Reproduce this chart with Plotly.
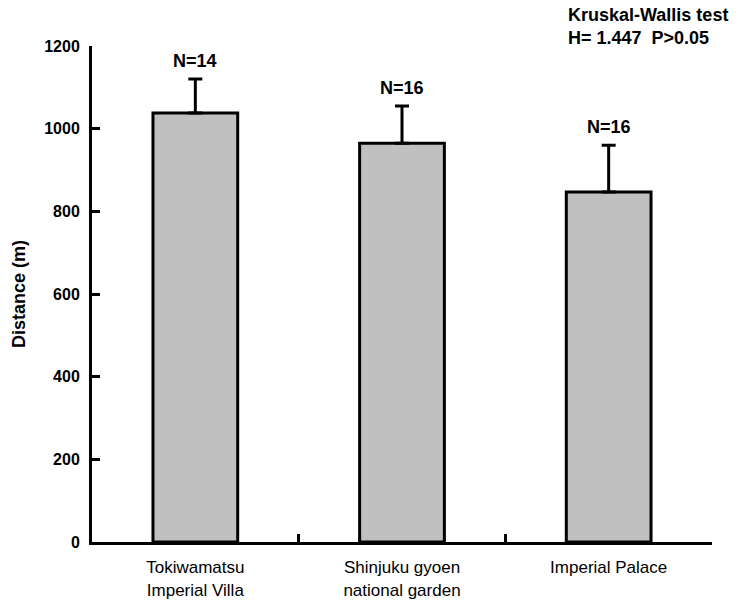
import plotly.graph_objects as go

categories = ["Tokiwamatsu<br>Imperial Villa", "Shinjuku gyoen<br>national garden", "Imperial Palace"]
means = [1038, 965, 847]
errors = [82, 90, 113]
n_labels = ["N=14", "N=16", "N=16"]
y_ticks = [0, 200, 400, 600, 800, 1000, 1200]
stat_text = "Kruskal-Wallis test<br>H= 1.447  P>0.05"

fig = go.Figure()
fig.add_trace(go.Bar(
    x=categories, y=means, width=0.41,
    marker=dict(color="#c0c0c0", line=dict(color="black", width=3)),
    error_y=dict(type="data", array=errors, symmetric=False, arrayminus=[0, 0, 0],
                 color="black", thickness=3, width=7),
))

for c, m, e, t in zip(categories, means, errors, n_labels):
    fig.add_annotation(x=c, y=m + e, text=f"<b>{t}</b>", showarrow=False,
                       yanchor="bottom", yshift=6,
                       font=dict(family="Liberation Sans, Arial", size=18, color="black"))

fig.add_annotation(xref="paper", yref="paper", x=1.0, y=1.0, xanchor="left", yanchor="bottom",
                   xshift=-146, yshift=-4, align="left", text=f"<b>{stat_text}</b>", showarrow=False,
                   font=dict(family="Liberation Sans, Arial", size=18, color="black"))

fig.update_layout(
    width=740, height=600,
    margin=dict(l=92, r=28, t=46, b=58),
    plot_bgcolor="white", paper_bgcolor="white",
    showlegend=False,
)
fig.update_xaxes(
    type="category", showline=True, linecolor="black", linewidth=3,
    ticks="inside", tickson="boundaries", ticklen=8, tickwidth=3, tickcolor="black",
    ticklabelstandoff=8, automargin=False,
    tickfont=dict(family="Liberation Sans, Arial", size=17, color="black"),
    showgrid=False, zeroline=False,
)
fig.update_yaxes(
    range=[0, 1200], tickvals=y_ticks, showline=True, linecolor="black", linewidth=3,
    ticks="inside", ticklen=8, tickwidth=3, tickcolor="black",
    ticklabelstandoff=6, automargin=False,
    tickfont=dict(family="Liberation Sans, Arial", size=16, color="black", weight="bold"),
    showgrid=False, zeroline=False,
    title=dict(text="<b>Distance (m)</b>", standoff=14,
               font=dict(family="Liberation Sans, Arial", size=18, color="black")),
)

fig.write_html("out.html")
